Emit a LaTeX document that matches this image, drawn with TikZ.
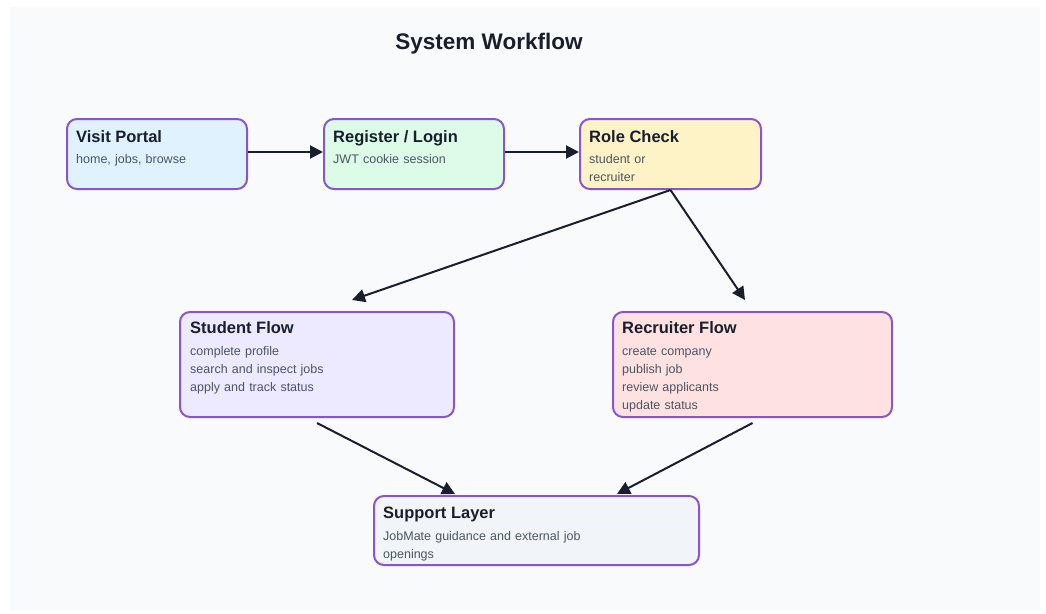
\documentclass[tikz,border=0pt]{standalone}
\usepackage{fontspec}
\setmainfont{Liberation Sans}
\usetikzlibrary{arrows.meta, positioning}

\definecolor{canvas}{RGB}{248,250,252}
\definecolor{edge}{RGB}{136,84,208}
\definecolor{ink}{RGB}{24,30,44}
\definecolor{muted}{RGB}{75,85,99}
\definecolor{fillvisit}{RGB}{224,242,254}
\definecolor{filllogin}{RGB}{220,252,231}
\definecolor{fillrole}{RGB}{254,243,199}
\definecolor{fillstudent}{RGB}{237,233,254}
\definecolor{fillrecruiter}{RGB}{254,226,226}
\definecolor{fillsupport}{RGB}{241,245,249}

\tikzset{
  stage/.style={draw=edge, line width=2pt, rounded corners=10pt, anchor=north west,
    inner sep=0pt, minimum height=70pt},
  head/.style={anchor=base west, inner sep=0pt, text=ink,
    font=\fontsize{16.5}{20}\selectfont\bfseries},
  note/.style={anchor=base west, inner sep=0pt, text=muted, align=left, text width=250pt,
    font=\fontsize{12.5}{18}\selectfont},
  flow/.style={-{Triangle[length=13pt,width=13pt]}, line width=2pt, draw=ink}
}

\begin{document}
\begin{tikzpicture}[x=1pt, y=-1pt]
    \useasboundingbox (0,0) rectangle (1046,613);
    \fill[white] (0,0) rectangle (1046,613);
    \fill[canvas] (10,7) rectangle (1040,611);

    \node[anchor=base, inner sep=0pt, text=ink, font=\fontsize{22.5}{26}\selectfont\bfseries]
        (title) at (489,49) {System Workflow};

    % top row
    \node[stage, fill=fillvisit, minimum width=180pt] (visit) at (66,118) {};
    \node[stage, fill=filllogin, minimum width=180pt] (login) at (323,118) {};
    \node[stage, fill=fillrole, minimum width=181pt] (role) at (579,118) {};

    \node[head] (visitT) at ([shift={(10pt,-24pt)}]visit.north west) {Visit Portal};
    \node[note] (visitS) at ([shift={(10pt,-45pt)}]visit.north west) {home, jobs, browse};
    \node[head] (loginT) at ([shift={(10pt,-24pt)}]login.north west) {Register / Login};
    \node[note] (loginS) at ([shift={(10pt,-45pt)}]login.north west) {JWT cookie session};
    \node[head] (roleT) at ([shift={(10pt,-24pt)}]role.north west) {Role Check};
    \node[note] (roleS) at ([shift={(10pt,-45pt)}]role.north west) {student or\\recruiter};

    % middle row
    \node[stage, fill=fillstudent, minimum width=274pt, minimum height=105pt] (student) at (179,311) {};
    \node[stage, fill=fillrecruiter, minimum width=279pt, minimum height=105pt] (recruiter) at (612,311) {};

    \node[head] (studentT) at ([shift={(11pt,-22pt)}]student.north west) {Student Flow};
    \node[note] (studentS) at ([shift={(11pt,-44pt)}]student.north west)
        {complete profile\\search and inspect jobs\\apply and track status};
    \node[head] (recruiterT) at ([shift={(10pt,-22pt)}]recruiter.north west) {Recruiter Flow};
    \node[note] (recruiterS) at ([shift={(10pt,-44pt)}]recruiter.north west)
        {create company\\publish job\\review applicants\\update status};

    % bottom
    \node[stage, fill=fillsupport, minimum width=325pt, minimum height=69pt] (support) at (373,495) {};
    \node[head] (supportT) at ([shift={(10pt,-23pt)}]support.north west) {Support Layer};
    \node[note] (supportS) at ([shift={(10pt,-45pt)}]support.north west)
        {JobMate guidance and external job\\openings};

    % free arrow ends
    \coordinate (stuIn) at (352,300);
    \coordinate (recIn) at (745,300);
    \coordinate (supL) at (455,494);
    \coordinate (supR) at (617,494);

    \draw[flow] ([yshift=2pt]visit.east) -- ([yshift=2pt]login.west);
    \draw[flow] ([yshift=2pt]login.east) -- ([yshift=2pt]role.west);
    \draw[flow] (role.south) -- (stuIn);
    \draw[flow] (role.south) -- (recIn);
    \draw[flow] ([yshift=-5pt]student.south) -- (supL);
    \draw[flow] ([yshift=-5pt]recruiter.south) -- (supR);
\end{tikzpicture}
\end{document}
